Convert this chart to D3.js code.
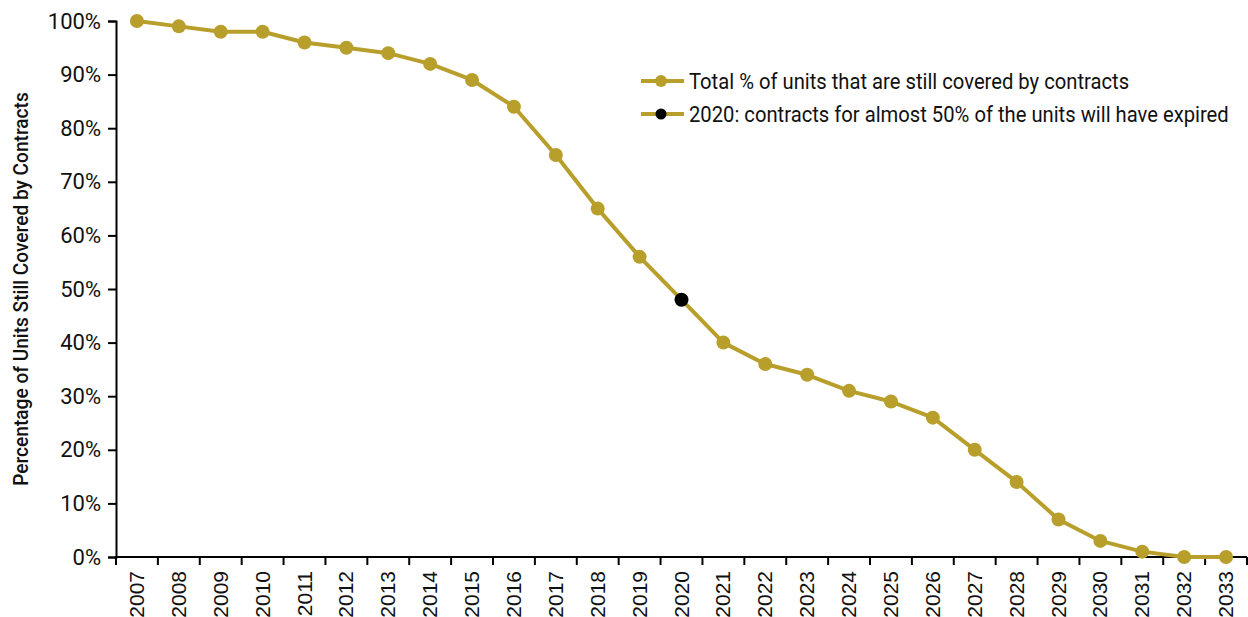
<!DOCTYPE html>
<html>
<head>
<meta charset="utf-8">
<script src="https://cdn.jsdelivr.net/npm/d3@7"></script>
<style>
  html, body { margin: 0; padding: 0; background: #fff; }
  svg { display: block; }
</style>
</head>
<body>
<svg id="chart" width="1248" height="617"></svg>
<script>
// Share of assisted units still under contract, by year
const years = ["2007","2008","2009","2010","2011","2012","2013","2014","2015","2016","2017","2018","2019","2020","2021","2022","2023","2024","2025","2026","2027","2028","2029","2030","2031","2032","2033"];
const percentCovered = [100,99,98,98,96,95,94,92,89,84,75,65,56,48,40,36,34,31,29,26,20,14,7,3,1,0,0];
const highlightYear = "2020";
const yTicks = [0,10,20,30,40,50,60,70,80,90,100];
const legendLabels = [
  "Total % of units that are still covered by contracts",
  "2020: contracts for almost 50% of the units will have expired"
];
const yTitle = "Percentage of Units Still Covered by Contracts";

const gold = "#B89F2B";
const svg = d3.select("#chart");
const margin = { left: 116, right: 1 };
const W = 1248;

const x = d3.scaleBand().domain(years).range([margin.left, W - margin.right]);
const y = d3.scaleLinear().domain([0, 100]).range([557, 21]);

// Y axis
const yAxis = svg.append("g")
  .attr("transform", `translate(${margin.left},0)`)
  .call(d3.axisLeft(y).tickValues(yTicks).tickFormat(d => d + "%").tickSize(8).tickPadding(7));
yAxis.select(".domain").attr("stroke", "#000").attr("stroke-width", 2);
yAxis.selectAll(".tick line").attr("stroke", "#000").attr("stroke-width", 2);
yAxis.selectAll(".tick text")
  .attr("font-family", "Roboto, 'Liberation Sans', sans-serif")
  .attr("font-size", 22).attr("fill", "#111");

// X axis: ticks at band boundaries
const xAxisG = svg.append("g").attr("transform", `translate(0,${y(0)})`);
xAxisG.append("line")
  .attr("x1", margin.left - 1).attr("x2", W - margin.right)
  .attr("stroke", "#000").attr("stroke-width", 2);
const boundaries = years.map(d => x(d)).concat([x(years[years.length - 1]) + x.bandwidth()]);
xAxisG.selectAll("line.tk").data(boundaries).join("line")
  .attr("class", "tk")
  .attr("x1", d => d).attr("x2", d => d)
  .attr("y1", 0).attr("y2", 8)
  .attr("stroke", "#000").attr("stroke-width", 2);
xAxisG.selectAll("text").data(years).join("text")
  .attr("transform", d => `translate(${x(d) + x.bandwidth() / 2 + 7},14) rotate(-90)`)
  .attr("text-anchor", "end")
  .attr("font-family", "'Liberation Sans', Arial, sans-serif")
  .attr("font-size", 21).attr("fill", "#111")
  .text(d => d);

// Y title
svg.append("text")
  .attr("transform", `translate(28,${(y(0) + y(100)) / 2}) rotate(-90) scale(0.955,1)`)
  .attr("text-anchor", "middle")
  .attr("font-family", "Roboto, 'Liberation Sans', sans-serif")
  .attr("font-weight", 500)
  .attr("font-size", 20).attr("fill", "#111")
  .text(yTitle);

// Line and markers
const cx = d => x(d) + x.bandwidth() / 2;
const line = d3.line().x((d, i) => cx(years[i])).y(d => y(d));
svg.append("path")
  .datum(percentCovered)
  .attr("d", line)
  .attr("fill", "none").attr("stroke", gold).attr("stroke-width", 4)
  .attr("stroke-linejoin", "round");
svg.selectAll("circle.pt").data(percentCovered).join("circle")
  .attr("class", "pt")
  .attr("cx", (d, i) => cx(years[i]))
  .attr("cy", d => y(d))
  .attr("r", 7)
  .attr("fill", (d, i) => years[i] === highlightYear ? "#000" : gold);

// Legend
const legend = svg.append("g").attr("transform", "translate(641,81)");
legendLabels.forEach((label, i) => {
  const g = legend.append("g").attr("transform", `translate(0,${i * 33})`);
  g.append("line").attr("x1", 0).attr("x2", 43).attr("stroke", gold).attr("stroke-width", 4);
  g.append("circle").attr("cx", 20).attr("r", i === 0 ? 6 : 5.5).attr("fill", i === 0 ? gold : "#000");
  g.append("text").attr("transform", "translate(48,0) scale(0.94,1)").attr("dy", "0.36em")
    .attr("font-family", "Roboto, 'Liberation Sans', sans-serif")
    .attr("font-size", 21.5).attr("fill", "#111")
    .text(label);
});
</script>
</body>
</html>
